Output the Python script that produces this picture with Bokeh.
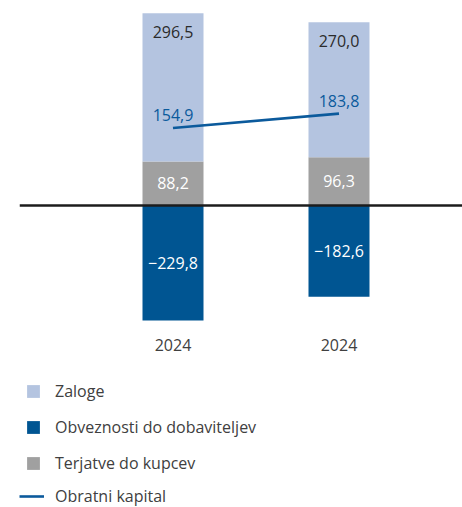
from bokeh.plotting import figure
from bokeh.models import (ColumnDataSource, Range1d, LinearAxis, FixedTicker, Span,
                          Legend, LegendItem)
from bokeh.core.properties import value
from bokeh.embed import file_html
from bokeh.resources import INLINE

# ---- data ----
years = ["2024", "2024"]
zaloge = [296.5, 270.0]
obveznosti = [-229.8, -182.6]
terjatve = [88.2, 96.3]
obratni = [154.9, 183.8]
series_names = ["Zaloge", "Obveznosti do dobaviteljev", "Terjatve do kupcev", "Obratni kapital"]

# ---- styling ----
C_ZAL = "#B4C4E0"
C_OBV = "#005592"
C_TER = "#A0A0A0"
C_LINE = "#0B5A9C"
FONT = "Open Sans"
FS = "16px"


def fmt(v):
    return f"{v:.1f}".replace(".", ",").replace("-", "\u2212")


xs = list(range(len(years)))
top_total = [t + z for t, z in zip(terjatve, zaloge)]

src = ColumnDataSource(dict(
    x=xs, zal=zaloge, obv=obveznosti, ter=terjatve, top=top_total, obr=obratni,
    zal_t=[fmt(v) for v in zaloge], obv_t=[fmt(v) for v in obveznosti],
    ter_t=[fmt(v) for v in terjatve], obr_t=[fmt(v) for v in obratni],
    ter_mid=[v / 2 for v in terjatve], obv_mid=[v / 2 for v in obveznosti],
))

p = figure(width=462, height=507, output_backend="svg", toolbar_location=None,
           x_axis_type=None, y_axis_type=None,
           x_range=Range1d(-0.9247, 1.7440), y_range=Range1d(-604, 410),
           min_border_left=19, min_border_right=0, min_border_top=0, min_border_bottom=0)
p.outline_line_color = None
p.background_fill_color = "white"
p.border_fill_color = "white"

W = 0.3675
r_ter = p.vbar(x="x", bottom=0, top="ter", width=W, source=src, fill_color=C_TER, line_color=None)
r_zal = p.vbar(x="x", bottom="ter", top="top", width=W, source=src, fill_color=C_ZAL, line_color=None)
r_obv = p.vbar(x="x", bottom="obv", top=0, width=W, source=src, fill_color=C_OBV, line_color=None)
r_line = p.line(x="x", y="obr", source=src, line_color=C_LINE, line_width=2.6)

p.add_layout(Span(location=0, dimension="width", line_color="#1c1c1c", line_width=2.6))

common = dict(text_font=value(FONT), text_font_size=FS, text_align="center", text_baseline="middle")
p.text(x="x", y="top", text="zal_t", source=src, text_color="#2b2b2b", y_offset=19, **common)
p.text(x="x", y="ter_mid", text="ter_t", source=src, text_color="white", **common)
p.text(x="x", y="obv_mid", text="obv_t", source=src, text_color="white", **common)
p.text(x="x", y="obr", text="obr_t", source=src, text_color=C_LINE, y_offset=-13, **common)

ax = LinearAxis(ticker=FixedTicker(ticks=xs), fixed_location=-248,
                major_label_overrides={i: y for i, y in zip(xs, years)})
ax.axis_line_color = None
ax.major_tick_line_color = None
ax.minor_tick_line_color = None
ax.major_label_standoff = 3
ax.major_label_text_font = FONT
ax.major_label_text_font_size = FS
ax.major_label_text_color = "#404040"
p.add_layout(ax, "below")

leg_common = dict(label_text_font=FONT, label_text_font_size=FS, label_text_color="#404040",
                  border_line_color=None, background_fill_alpha=0, padding=0, margin=0,
                  glyph_height=16, label_height=16)
leg1 = Legend(items=[LegendItem(label=series_names[0], renderers=[r_zal]),
                     LegendItem(label=series_names[1], renderers=[r_obv]),
                     LegendItem(label=series_names[2], renderers=[r_ter])],
              location=(6, 33), glyph_width=16, label_standoff=14, spacing=14, **leg_common)
leg2 = Legend(items=[LegendItem(label=series_names[3], renderers=[r_line])],
              location=(0, 0), glyph_width=25, label_standoff=11, spacing=0, **leg_common)
p.add_layout(leg1, "center")
p.add_layout(leg2, "center")

open("out.html", "w").write(file_html(p, INLINE))
